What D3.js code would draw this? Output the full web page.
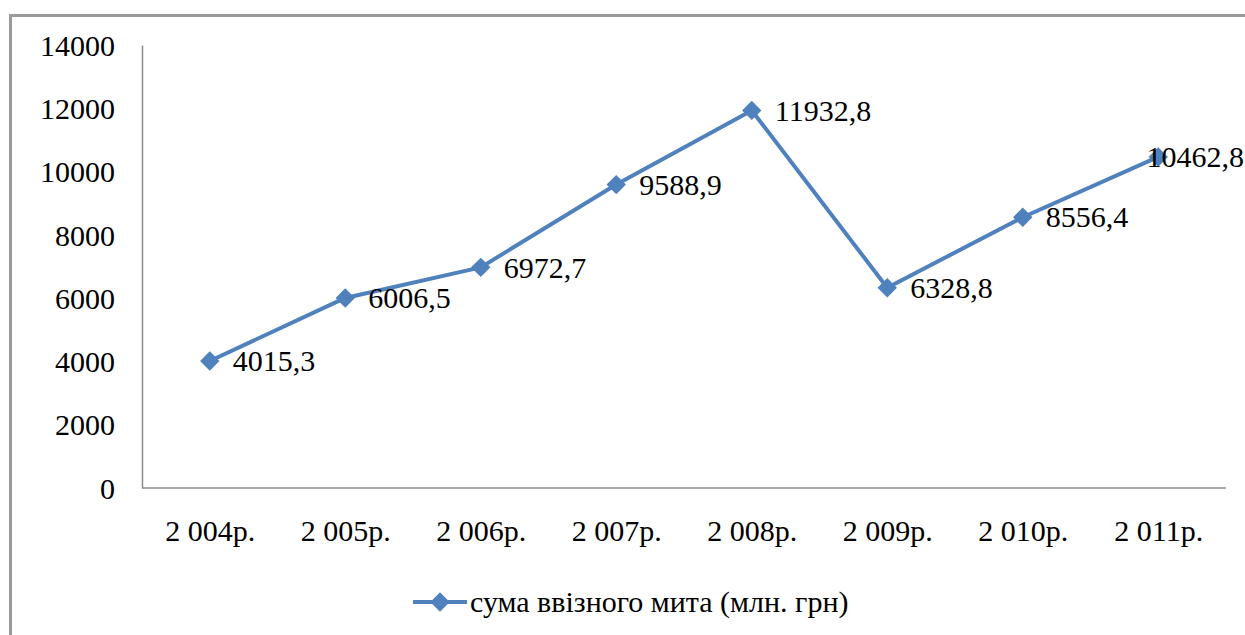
<!DOCTYPE html>
<html>
<head>
<meta charset="utf-8">
<script src="https://cdn.jsdelivr.net/npm/d3@7"></script>
<style>
  html, body { margin: 0; padding: 0; background: #fff; }
  svg { display: block; }
</style>
</head>
<body>
<svg id="chart" width="1245" height="635" font-family="Liberation Serif, DejaVu Serif, Noto Serif, serif"></svg>
<script>
// Import duty revenue by year, million UAH
const years = ["2 004р.", "2 005р.", "2 006р.", "2 007р.", "2 008р.", "2 009р.", "2 010р.", "2 011р."];
const duty = [4015.3, 6006.5, 6972.7, 9588.9, 11932.8, 6328.8, 8556.4, 10462.8];
const yTicks = [0, 2000, 4000, 6000, 8000, 10000, 12000, 14000];
const seriesName = "сума ввізного мита (млн. грн)";

const W = 1245, H = 635;
const plot = { left: 142, right: 1226, top: 45, bottom: 488 };
const blue = "#4F81BD";
const axisGray = "#8c8c8c";
const fontSize = 30;

const svg = d3.select("#chart");

// outer chart frame
svg.append("rect")
  .attr("x", 10.5).attr("y", 15.5)
  .attr("width", W + 20).attr("height", H + 20)
  .attr("fill", "none").attr("stroke", "#9a9a9a").attr("stroke-width", 3);

const x = d3.scalePoint().domain(years).range([plot.left, plot.right]).padding(0.5);
const y = d3.scaleLinear().domain([0, 14000]).range([plot.bottom, plot.top]);

// y axis
const yAxis = svg.append("g")
  .attr("transform", `translate(${plot.left},0)`)
  .call(d3.axisLeft(y).tickValues(yTicks).tickSize(0).tickPadding(27).tickFormat(d3.format("d")));
yAxis.attr("font-family", null).attr("font-size", fontSize);
yAxis.select(".domain").attr("stroke", axisGray).attr("stroke-width", 1.5);
yAxis.selectAll("text").attr("fill", "#000").attr("dy", "0.34em");

// x axis
const xAxis = svg.append("g")
  .attr("transform", `translate(0,${plot.bottom})`)
  .call(d3.axisBottom(x).tickSize(0).tickPadding(32));
xAxis.attr("font-family", null).attr("font-size", fontSize);
xAxis.select(".domain")
  .attr("d", `M${plot.left},0H${plot.right}`)
  .attr("stroke", axisGray).attr("stroke-width", 1.5);
xAxis.selectAll("text").attr("fill", "#000");

const pts = years.map((c, i) => ({ c, v: duty[i] }));

// series line
svg.append("path")
  .datum(pts)
  .attr("fill", "none")
  .attr("stroke", blue)
  .attr("stroke-width", 4)
  .attr("stroke-linejoin", "round")
  .attr("d", d3.line().x(d => x(d.c)).y(d => y(d.v)));

// diamond markers
const diamond = d3.symbol().type(d3.symbolDiamond2).size(240);
svg.append("g").selectAll("path")
  .data(pts).join("path")
  .attr("transform", d => `translate(${x(d.c)},${y(d.v)})`)
  .attr("d", diamond)
  .attr("fill", blue);

// value labels to the right of each point, kept inside the frame
const fmt = v => v.toFixed(1).replace(".", ",");
svg.append("g").attr("font-size", fontSize).selectAll("text")
  .data(pts).join("text")
  .attr("dy", "0.34em")
  .attr("y", d => y(d.v))
  .text(d => fmt(d.v))
  .attr("x", function (d) {
    const w = this.getComputedTextLength();
    return Math.min(x(d.c) + 23, W - 1 - w);
  });

// legend
const lg = svg.append("g").attr("transform", "translate(413,602)");
lg.append("line").attr("x1", 0).attr("x2", 54).attr("y1", 0).attr("y2", 0)
  .attr("stroke", blue).attr("stroke-width", 4);
lg.append("path").attr("transform", "translate(27,0)").attr("d", diamond).attr("fill", blue);
lg.append("text").attr("x", 57).attr("y", 0).attr("dy", "0.34em")
  .attr("font-size", 30).text(seriesName);
</script>
</body>
</html>
